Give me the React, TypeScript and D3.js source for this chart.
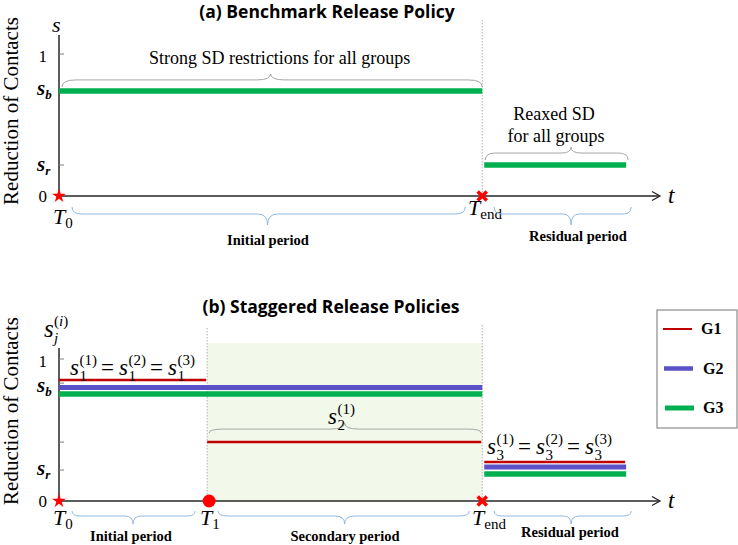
import React from "react";
import * as d3 from "d3";

const W = 738;
const H = 545;

// time marks: T0, T1, Tend, end of residual bars, end of t axis
const timeMarks = [0, 35, 100, 134, 142];
const [T0, T1, TEND, TSTOP, TMAX] = timeMarks;

// (a) benchmark levels: s_b, s_r
const benchLevels = [0.74, 0.218];

// (b) staggered levels per group
const groupNames = ["G1", "G2", "G3"];
const groupColors = ["#c00000", "#5a50c8", "#00b050"];
const groupWidths = [2.5, 5, 5.5];
const initialLevels = [0.852, 0.8, 0.754];
const secondaryLevels = [0.415, 0.8, 0.754];
const residualLevels = [0.275, 0.24, 0.19];

const ticksA = [1, 0.74, 0.218];
const ticksB = [1, 0.83, 0.415, 0.218];

const SERIF = "Liberation Serif";
const SANS = "Open Sans";
const AXIS = "#262626";
const GRAY_BRACE = "#a6a6a6";
const BLUE_BRACE = "#8fb8e3";
const RED = "#ff0000";

const x = d3.scaleLinear().domain([T0, TMAX]).range([59, 660]);
const yA = d3.scaleLinear().domain([0, 1]).range([196, 54]);
const yB = d3.scaleLinear().domain([0, 1]).range([501, 359]);

// curly brace: tips at yTip, straight part at yBar, point at yPeak
function brace(x1: number, x2: number, xm: number, yTip: number, yBar: number, yPeak: number, r = 10) {
  return `M${x1},${yTip} Q${x1},${yBar} ${x1 + r},${yBar} L${xm - r},${yBar} Q${xm},${yBar} ${xm},${yPeak} ` +
    `Q${xm},${yBar} ${xm + r},${yBar} L${x2 - r},${yBar} Q${x2},${yBar} ${x2},${yTip}`;
}

const star = d3.symbol(d3.symbolStar, 60)();
const cross = d3.symbol(d3.symbolX, 56)();

function Axes({ y, top }: { y: d3.ScaleLinear<number, number>; top: number }) {
  const x0 = x(T0), y0 = y(0);
  return (
    <g>
      <line x1={x0} x2={x0} y1={top} y2={y0} stroke={AXIS} strokeWidth={1.5} />
      <line x1={x0} x2={x(TMAX) - 1} y1={y0} y2={y0} stroke={AXIS} strokeWidth={1.5} />
      <path d={`M${x(TMAX) - 8},${y0 - 4.5} L${x(TMAX)},${y0} L${x(TMAX) - 8},${y0 + 4.5}`} fill="none" stroke={AXIS} strokeWidth={1.3} />
      <text x={x(TMAX) + 8} y={y0 + 7} fontFamily={SERIF} fontStyle="italic" fontSize={23}>t</text>
    </g>
  );
}

function YTicks({ y, values }: { y: d3.ScaleLinear<number, number>; values: number[] }) {
  return (
    <g>
      {values.map((v, i) => (
        <line key={i} x1={x(T0)} x2={x(T0) + 5} y1={y(v)} y2={y(v)} stroke="#7f7f7f" strokeWidth={1} />
      ))}
      <text x={47} y={y(1) + 8} textAnchor="end" fontFamily={SERIF} fontSize={17}>1</text>
      <text x={47} y={y(0) + 6} textAnchor="end" fontFamily={SERIF} fontSize={17}>0</text>
    </g>
  );
}

function SLabel({ xs, yb, sub }: { xs: number; yb: number; sub: string }) {
  return (
    <text x={xs} y={yb} fontFamily={SERIF} fontWeight="bold" fontStyle="italic" fontSize={21}>
      s<tspan fontSize={13} dy={4}>{sub}</tspan>
    </text>
  );
}

function TLabel({ xs, yb, sub }: { xs: number; yb: number; sub: string }) {
  return (
    <text x={xs} y={yb} fontFamily={SERIF} fontSize={22}>
      <tspan fontStyle="italic">T</tspan>
      <tspan fontSize={15} dy={4}>{sub}</tspan>
    </text>
  );
}

// s_sub^(sup) = s_sub^(sup) = ...
function SEquation({ x0, yb, subs, sups }: { x0: number; yb: number; subs: string[]; sups: string[] }) {
  const step = 49;
  return (
    <text fontFamily={SERIF}>
      {subs.map((s, k) => (
        <React.Fragment key={k}>
          <tspan x={x0 + k * step} y={yb} fontStyle="italic" fontSize={23}>s</tspan>
          <tspan x={x0 + k * step + 9.5} y={yb + 6} fontSize={15}>{s}</tspan>
          <tspan x={x0 + k * step + 9.5} y={yb - 10} fontSize={15}>({sups[k]})</tspan>
          {k < subs.length - 1 && (
            <tspan x={x0 + k * step + 31} y={yb} fontSize={23}>=</tspan>
          )}
        </React.Fragment>
      ))}
    </text>
  );
}

function PeriodLabel({ cx, yb, text }: { cx: number; yb: number; text: string }) {
  return (
    <text x={cx} y={yb} textAnchor="middle" fontFamily={SERIF} fontWeight="bold" fontSize={14.5}>{text}</text>
  );
}

function PanelA() {
  const [sb, sr] = benchLevels;
  const mid = (a: number, b: number) => x((a + b) / 2);
  return (
    <g>
      <text x={327} y={18} textAnchor="middle" fontFamily={SANS} fontWeight="bold" fontSize={17.5}>(a) Benchmark Release Policy</text>
      <text transform={`translate(18,${111}) rotate(-90)`} textAnchor="middle" fontFamily={SERIF} fontSize={21}>Reduction of Contacts</text>
      <line x1={x(TEND)} x2={x(TEND)} y1={20} y2={yA(0)} stroke="#b0b0b0" strokeWidth={1} strokeDasharray="1.5,1.5" />
      <Axes y={yA} top={35} />
      <YTicks y={yA} values={ticksA} />
      <text x={52} y={32} fontFamily={SERIF} fontStyle="italic" fontSize={22}>s</text>
      <SLabel xs={37} yb={yA(sb) + 4} sub="b" />
      <SLabel xs={37} yb={yA(sr) + 6} sub="r" />

      <line x1={x(T0)} x2={x(TEND)} y1={yA(sb)} y2={yA(sb)} stroke={groupColors[2]} strokeWidth={5.5} />
      <line x1={x(TEND) + 2} x2={x(TSTOP)} y1={yA(sr)} y2={yA(sr)} stroke={groupColors[2]} strokeWidth={5.5} />

      <path d={brace(x(T0) + 3, x(TEND), mid(T0, TEND), yA(sb) - 4, yA(sb) - 11, yA(sb) - 17, 14)} fill="none" stroke={GRAY_BRACE} strokeWidth={1} />
      <text x={mid(T0, TEND) + 9} y={64} textAnchor="middle" fontFamily={SERIF} fontSize={18}>Strong SD restrictions for all groups</text>
      <path d={brace(x(TEND) + 3, x(TSTOP) + 2, mid(TEND, TMAX), yA(sr) - 5, yA(sr) - 12, yA(sr) - 18, 10)} fill="none" stroke={GRAY_BRACE} strokeWidth={1} />
      <text x={554} y={120} textAnchor="middle" fontFamily={SERIF} fontSize={18}>Reaxed SD</text>
      <text x={556} y={142} textAnchor="middle" fontFamily={SERIF} fontSize={18}>for all groups</text>

      <path d={star} transform={`translate(${x(T0)},${yA(0)})`} fill={RED} />
      <path d={cross} transform={`translate(${x(TEND)},${yA(0)})`} fill="none" stroke={RED} strokeWidth={3.5} />

      <TLabel xs={53} yb={224} sub="0" />
      <TLabel xs={468} yb={215} sub="end" />
      <path d={brace(x(T0) + 13, x(TEND) - 17, mid(T0, TEND) - 3, 207, 214, 225, 10)} fill="none" stroke={BLUE_BRACE} strokeWidth={1} />
      <path d={brace(x(TEND) + 12, x(TSTOP) + 5, mid(TEND, TMAX), 207, 214, 225, 8)} fill="none" stroke={BLUE_BRACE} strokeWidth={1} />
      <PeriodLabel cx={268} yb={245} text="Initial period" />
      <PeriodLabel cx={578} yb={241} text="Residual period" />
    </g>
  );
}

function PanelB() {
  const mid = (a: number, b: number) => x((a + b) / 2);
  const segments = groupNames.flatMap((g, i) => {
    const segs = initialLevels[i] === secondaryLevels[i]
      ? [{ t0: T0, t1: TEND, v: initialLevels[i] }]
      : [{ t0: T0, t1: T1, v: initialLevels[i] }, { t0: T1, t1: TEND, v: secondaryLevels[i] }];
    segs.push({ t0: TEND, t1: TSTOP, v: residualLevels[i] });
    return segs.map((s) => ({ ...s, i }));
  });
  const ys2 = yB(secondaryLevels[0]);
  return (
    <g>
      <text x={331} y={313} textAnchor="middle" fontFamily={SANS} fontWeight="bold" fontSize={17.5}>(b) Staggered Release Policies</text>
      <text transform={`translate(18,${411}) rotate(-90)`} textAnchor="middle" fontFamily={SERIF} fontSize={21}>Reduction of Contacts</text>
      <rect x={x(T1)} y={343} width={x(TEND) - x(T1)} height={yB(0) - 343} fill="#f3f9ea" />
      <line x1={x(T1)} x2={x(T1)} y1={328} y2={yB(0)} stroke="#b0b0b0" strokeWidth={1} strokeDasharray="1.5,1.5" />
      <line x1={x(TEND)} x2={x(TEND)} y1={325} y2={yB(0)} stroke="#b0b0b0" strokeWidth={1} strokeDasharray="1.5,1.5" />
      <Axes y={yB} top={348} />
      <YTicks y={yB} values={ticksB} />
      <text fontFamily={SERIF}>
        <tspan x={44} y={337} fontStyle="italic" fontSize={25}>s</tspan>
        <tspan x={54} y={343} fontStyle="italic" fontSize={15}>j</tspan>
        <tspan x={54} y={326} fontSize={15}>(<tspan fontStyle="italic">i</tspan>)</tspan>
      </text>
      <SLabel xs={37} yb={392} sub="b" />
      <SLabel xs={37} yb={yB(benchLevels[1]) + 5} sub="r" />

      {segments.map((s, k) => (
        <line key={k}
          x1={s.t0 === TEND ? x(s.t0) + 2 : x(s.t0)}
          x2={s.i === 0 ? x(s.t1) - 1 : x(s.t1)}
          y1={yB(s.v)} y2={yB(s.v)}
          stroke={groupColors[s.i]} strokeWidth={groupWidths[s.i]} />
      ))}

      <SEquation x0={70} yb={375} subs={["1", "1", "1"]} sups={["1", "2", "3"]} />
      <path d={brace(x(T1) + 2, x(TEND) - 1, mid(T1, TEND), ys2 - 9, ys2 - 13, ys2 - 19, 14)} fill="none" stroke={GRAY_BRACE} strokeWidth={1} />
      <text fontFamily={SERIF}>
        <tspan x={328} y={424} fontStyle="italic" fontSize={23}>s</tspan>
        <tspan x={337.5} y={430} fontSize={15}>2</tspan>
        <tspan x={337.5} y={414} fontSize={15}>(1)</tspan>
      </text>
      <SEquation x0={487} yb={454} subs={["3", "3", "3"]} sups={["1", "2", "3"]} />

      <path d={star} transform={`translate(${x(T0)},${yB(0)})`} fill={RED} />
      <circle cx={x(T1) + 2} cy={yB(0)} r={6.5} fill={RED} />
      <path d={cross} transform={`translate(${x(TEND)},${yB(0)})`} fill="none" stroke={RED} strokeWidth={3.5} />

      <TLabel xs={53} yb={525} sub="0" />
      <TLabel xs={200} yb={525} sub="1" />
      <TLabel xs={472} yb={525} sub="end" />
      <path d={brace(x(T0) + 13, x(T1) - 12, mid(T0, T1), 511, 516, 524, 8)} fill="none" stroke={BLUE_BRACE} strokeWidth={1} />
      <path d={brace(x(T1) + 11, x(TEND) - 13, mid(T1, TEND), 511, 516, 524, 10)} fill="none" stroke={BLUE_BRACE} strokeWidth={1} />
      <path d={brace(x(TEND) + 12, x(TSTOP) + 5, mid(TEND, TMAX), 511, 516, 524, 8)} fill="none" stroke={BLUE_BRACE} strokeWidth={1} />
      <PeriodLabel cx={131} yb={541} text="Initial period" />
      <PeriodLabel cx={345} yb={541} text="Secondary period" />
      <PeriodLabel cx={570} yb={537} text="Residual period" />
    </g>
  );
}

function Legend() {
  const rows = d3.scaleLinear().domain([0, 2]).range([329, 408]);
  return (
    <g>
      <rect x={657} y={310} width={80} height={118} fill="#fff" stroke="#8c8c8c" strokeWidth={1.2} />
      {groupNames.map((g, i) => (
        <g key={g}>
          <line x1={663 + i} x2={692 + i} y1={rows(i)} y2={rows(i)} stroke={groupColors[i]} strokeWidth={groupWidths[i] - 0.5} />
          <text x={701 + (i > 0 ? 2 : 0)} y={rows(i) + 5} fontFamily={SERIF} fontWeight="bold" fontSize={16}>{g}</text>
        </g>
      ))}
    </g>
  );
}

export default function App() {
  return (
    <svg width={W} height={H} style={{ position: "absolute", left: 0, top: 0, background: "#fff" }}>
      <PanelA />
      <PanelB />
      <Legend />
    </svg>
  );
}
